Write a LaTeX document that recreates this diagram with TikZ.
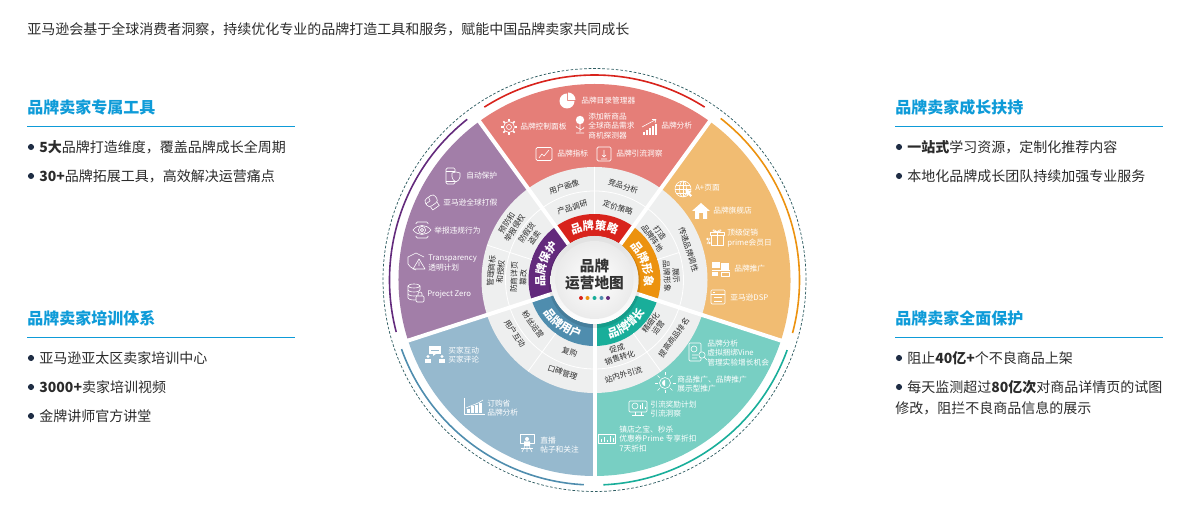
\documentclass[tikz,border=0pt]{standalone}
\usepackage{fontspec}
\setmainfont{Noto Sans CJK SC}
\usetikzlibrary{positioning,decorations.text}

\definecolor{secred}{HTML}{E57E78}
\definecolor{secpurple}{HTML}{A27EA8}
\definecolor{secorange}{HTML}{F1BC72}
\definecolor{secblue}{HTML}{96B9CE}
\definecolor{secteal}{HTML}{78CFC3}
\definecolor{ringred}{HTML}{D8231C}
\definecolor{ringpurple}{HTML}{632A7C}
\definecolor{ringorange}{HTML}{EC920F}
\definecolor{ringblue}{HTML}{4F8DAE}
\definecolor{ringteal}{HTML}{19AE9A}
\definecolor{gridgrey}{HTML}{EEEFEF}
\definecolor{headblue}{HTML}{0E9BD8}
\definecolor{bodyink}{HTML}{2B2B2B}
\definecolor{dotnavy}{HTML}{1F2D44}
\definecolor{dashteal}{HTML}{2F5D62}

\tikzset{
  headtext/.style={anchor=west,inner sep=0pt,text=headblue,font=\fontsize{12pt}{14pt}\selectfont\bfseries},
  bodytext/.style={anchor=west,inner sep=0pt,text=bodyink,font=\fontsize{10.5pt}{12pt}\selectfont},
  bulletdot/.style={circle,fill=dotnavy,inner sep=0pt,minimum size=4.6pt},
  sectext/.style={anchor=west,inner sep=0pt,align=left,text=white,font=\fontsize{5.8pt}{7.1pt}\selectfont},
  gridtext/.style={inner sep=0pt,align=center,text=bodyink,font=\fontsize{5.8pt}{7pt}\selectfont},
  ringtext/.style={decorate,decoration={text along path,text align=center,text color=white,text={|\fontsize{8.5pt}{10pt}\selectfont\bfseries|#1}}},
  icon/.style={draw=white,line width=.45pt,line join=round},
}

\begin{document}
\begin{tikzpicture}[x=0.75pt,y=0.75pt]
  \useasboundingbox (0,0) rectangle (1189,513);

  \node[bodytext] (intro) at (27,484) {亚马逊会基于全球消费者洞察，持续优化专业的品牌打造工具和服务，赋能中国品牌卖家共同成长};

  % side columns
  \node[headtext] (headA) at (27,406) {品牌卖家专属工具};
  \coordinate (ruleAa) at (27,386); \coordinate (ruleAb) at (295,386);
  \draw[headblue,line width=.75pt] (ruleAa) -- (ruleAb);
  \node[bulletdot] (dotA1) at (31,366) {};
  \node[bodytext,right=3.6pt of dotA1] (itemA1) {\textbf{5大}品牌打造维度，覆盖品牌成长全周期};
  \node[bulletdot] (dotA2) at (31,337) {};
  \node[bodytext,right=3.6pt of dotA2] (itemA2) {\textbf{30+}品牌拓展工具，高效解决运营痛点};

  \node[headtext] (headB) at (27,195) {品牌卖家培训体系};
  \coordinate (ruleBa) at (27,175); \coordinate (ruleBb) at (295,175);
  \draw[headblue,line width=.75pt] (ruleBa) -- (ruleBb);
  \node[bulletdot] (dotB1) at (31,155) {};
  \node[bodytext,right=3.6pt of dotB1] (itemB1) {亚马逊亚太区卖家培训中心};
  \node[bulletdot] (dotB2) at (31,126) {};
  \node[bodytext,right=3.6pt of dotB2] (itemB2) {\textbf{3000+}卖家培训视频};
  \node[bulletdot] (dotB3) at (31,97) {};
  \node[bodytext,right=3.6pt of dotB3] (itemB3) {金牌讲师官方讲堂};

  \node[headtext] (headC) at (895,406) {品牌卖家成长扶持};
  \coordinate (ruleCa) at (895,386); \coordinate (ruleCb) at (1163,386);
  \draw[headblue,line width=.75pt] (ruleCa) -- (ruleCb);
  \node[bulletdot] (dotC1) at (899,366) {};
  \node[bodytext,right=3.6pt of dotC1] (itemC1) {\textbf{一站式}学习资源，定制化推荐内容};
  \node[bulletdot] (dotC2) at (899,337) {};
  \node[bodytext,right=3.6pt of dotC2] (itemC2) {本地化品牌成长团队持续加强专业服务};

  \node[headtext] (headD) at (895,195) {品牌卖家全面保护};
  \coordinate (ruleDa) at (895,175); \coordinate (ruleDb) at (1163,175);
  \draw[headblue,line width=.75pt] (ruleDa) -- (ruleDb);
  \node[bulletdot] (dotD1) at (899,155) {};
  \node[bodytext,right=3.6pt of dotD1] (itemD1) {阻止\textbf{40亿+}个不良商品上架};
  \node[bulletdot] (dotD2) at (899,126) {};
  \node[bodytext,right=3.6pt of dotD2] (itemD2) {每天监测超过\textbf{80亿次}对商品详情页的试图};
  \node[bodytext] (itemD3) at (895,105) {修改，阻拦不良商品信息的展示};

  % wheel
  \begin{scope}[shift={(594.5,233)}]
    \draw[dashteal,line width=.55pt,dash pattern=on 2pt off 1.4pt] (0,0) circle[radius=211.5];
    \foreach \a/\col in {54/secred,126/secpurple,198/secblue,270/secteal,342/secorange}
      \fill[\col] (0,0) -- (\a:196) arc[start angle=\a,delta angle=72,radius=196] -- cycle;
    \foreach \a/\b/\col in {57.5/122.5/ringred,128.4/194.7/ringpurple,199.7/267/ringblue,272.5/340/ringteal,345/412/ringorange}
      \draw[\col,line width=1.2pt] (\a:205) arc[start angle=\a,end angle=\b,radius=205];
    \fill[gridgrey] (0,0) circle[radius=113];
    \foreach \a/\col in {54/ringred,126/ringpurple,198/ringblue,270/ringteal,342/ringorange}
      \fill[\col] (\a:66) arc[start angle=\a,delta angle=72,radius=66] -- (\a+72:44) arc[start angle=\a+72,delta angle=-72,radius=44] -- cycle;
    \draw[white,line width=.6pt] (0,0) circle[radius=89];
    \foreach \a in {90,162,234,306}
      \draw[white,line width=.6pt] (\a:66) -- (\a:113);
    \draw[white,line width=.6pt] (18:66) -- (18:89);
    \foreach \a in {54,126,198,270,342}
      \draw[white,line width=3pt] (\a:40) -- (\a:200);

    \path[ringtext=品牌策略] (126:50) arc[start angle=126,delta angle=-72,radius=50];
    \path[ringtext=品牌形象] (54:50) arc[start angle=54,delta angle=-72,radius=50];
    \path[ringtext=品牌保护] (198:50) arc[start angle=198,delta angle=-72,radius=50];
    \path[ringtext=品牌用户] (198:60) arc[start angle=198,delta angle=72,radius=60];
    \path[ringtext=品牌增长] (270:60) arc[start angle=270,delta angle=72,radius=60];

    \foreach \nm/\a/\r/\rot/\t in {
      cellA/108/98/18/用户画像, cellB/73/98/-17/竞品分析,
      cellC/107/76/17/产品调研, cellD/72/76/-18/定价策略,
      cellE/18/99/-72/传递品牌调性, cellF/36/76/-54/{打造\\品牌阵地}, cellG/3/77/-87/{展示\\品牌形象},
      cellH/147/100/57/{预防和\\举报侵权}, cellI/145/78/55/{防假货\\盗卖},
      cellJ/175/99/85/{管理商标\\和授权}, cellK/178/76/88/{防商详页\\篡改},
      cellL/216/76/-54/粉丝运营, cellM/214/96/-56/用户互动,
      cellN/251/76/-19/复购, cellO/251/98/-19/口碑管理,
      cellP/288/77/18/{促成\\销售转化}, cellQ/323/75/53/{精细化\\运营},
      cellR/324/98/54/提高商品排名, cellS/287/99/17/站内外引流}
      \node[gridtext,rotate=\rot] (\nm) at (\a:\r) {\t};

    % hub
    \fill[black,opacity=.10] (0,-2) circle[radius=46];
    \shade[top color=black!12,bottom color=white] (0,0) circle[radius=44];
    \shade[inner color=white,outer color=black!8] (0,0) circle[radius=39];
    \node[inner sep=0pt,align=center,text=black!80,font=\fontsize{11pt}{12.8pt}\selectfont\bfseries] (hub) at (0,5) {品牌\\运营地图};
    \foreach \nm/\dx/\col in {hubA/-13.5/ringred,hubB/-7/ringorange,hubC/0/ringteal,hubD/7/ringblue,hubE/13.5/ringpurple}
      \node[circle,fill=\col,inner sep=0pt,minimum size=3pt] (\nm) at (\dx,-18) {};
  \end{scope}

  % sector texts
  \foreach \nm/\x/\y/\t in {
    txtA/581/412/品牌目录管理器, txtB/520/386/品牌控制面板, txtC/588/387/{添加新商品\\全球商品需求\\商机探测器},
    txtD/661/387/品牌分析, txtE/557/359/品牌指标, txtF/616/359/品牌引流洞察,
    txtG/466/337/自动保护, txtH/443/310/亚马逊全球打假, txtI/434/282/举报违规行为,
    txtJ/428/250/{Transparency\\透明计划}, txtK/427/219/Project Zero,
    txtL/695/325/A+页面, txtM/713/302/品牌旗舰店, txtN/727/275/{顶级促销\\prime会员日},
    txtO/734/244/品牌推广, txtP/730/215/亚马逊DSP,
    txtQ/448/158/{买家互动\\买家评论}, txtR/487/105/{订购省\\品牌分析}, txtS/540/68/{直播\\帖子和关注},
    txtT/707/160/{品牌分析\\虚拟捆绑Vine\\管理实验增长机会}, txtU/677/129/{商品推广、品牌推广\\展示型推广},
    txtV/650/104/{引流奖励计划\\引流洞察}, txtW/619/74/{镇店之宝、秒杀\\优惠券Prime 专享折扣\\7天折扣}}
    \node[sectext] (\nm) at (\x,\y) {\t};

  % icons, red
  \begin{scope}[shift={(567,412)}]
    \fill[white] (0,0) -- (0,7.5) arc[start angle=90,delta angle=270,radius=7.5] -- cycle;
    \fill[white] (1,1) -- (1,8.5) arc[start angle=90,delta angle=-90,radius=7.5] -- cycle;
  \end{scope}
  \begin{scope}[shift={(509,386)},icon]
    \draw (0,0) circle[radius=2.5] (0,0) circle[radius=5.5];
    \foreach \a in {0,45,...,315} \draw[line width=1.1pt] (\a:5.5) -- (\a:8);
  \end{scope}
  \begin{scope}[shift={(580,388)},icon]
    \fill[white] (0,5) circle[radius=4.2];
    \draw (0,1) -- (0,-7) (-4,-8) -- (4,-8) (0,-4) .. controls (-4,-2) .. (-4,-1) (0,-5) .. controls (4,-3) .. (4,-2);
  \end{scope}
  \begin{scope}[shift={(650,386)},icon]
    \foreach \x/\h in {-7/3,-4/5,-1/7,2/9,5/11}
      \fill[white] (\x,-8) rectangle (\x+2,-8+\h);
    \draw (-8,0) -- (5,7) (2,7.5) -- (6,7.5) -- (5,4);
  \end{scope}
  \begin{scope}[shift={(544,359)},icon]
    \draw[rounded corners=1pt] (-8,-6.5) rectangle (8,6.5);
    \draw (-5,-4) -- (-2,0) -- (0,-2) -- (5,4);
  \end{scope}
  \begin{scope}[shift={(604,359)},icon]
    \draw[rounded corners=1pt] (-7,-7) rectangle (7,7);
    \draw (0,4) -- (0,-3) (-2,-1) -- (0,-3) -- (2,-1) (-3,-5) -- (3,-5);
  \end{scope}

  % icons, purple
  \begin{scope}[shift={(453,337)},icon]
    \draw[rounded corners=1pt] (-7,-8) rectangle (2,8);
    \draw (-7,5) -- (2,5) (-7,-5) -- (2,-5);
    \draw[fill=secpurple] (-1,3) -- (3,4) -- (7,3) -- (7,-1) .. controls (6,-4) .. (3,-6) .. controls (0,-4) .. (-1,-1) -- cycle;
  \end{scope}
  \begin{scope}[shift={(432,311)},icon,rotate=35]
    \draw[rounded corners=2.5pt] (-6,-3) rectangle (6,6);
    \draw (-4,-3) -- (-4,-7) -- (4,-7) -- (4,-3) (-6,2) -- (-1,2) (-1,2) -- (0,6);
  \end{scope}
  \begin{scope}[shift={(422,283)},icon]
    \draw (-9,0) .. controls (-4,6) and (4,6) .. (9,0) .. controls (4,-6) and (-4,-6) .. cycle;
    \draw (0,0) circle[radius=3.6] (0,0) circle[radius=1.6];
    \draw[rounded corners=1pt] (-6,-6) -- (-6,-8) -- (6,-8) -- (6,-6) (-6,6) -- (-6,8) -- (6,8) -- (6,6);
  \end{scope}
  \begin{scope}[shift={(416,251)},icon]
    \draw (0,9) -- (8,5) (0,9) -- (-8,5) -- (-8,-2) .. controls (-6,-5) .. (0,-8);
    \draw (3,3) -- (9,-7) -- (-3,-7) -- cycle (3,0) -- (3,-4);
  \end{scope}
  \begin{scope}[shift={(414,221)},icon]
    \draw (0,6) ellipse[x radius=6,y radius=2];
    \draw (6,6) -- (6,2) (-6,6) -- (-6,-6) arc[start angle=180,end angle=300,x radius=6,y radius=2];
    \draw (-6,2) arc[start angle=180,end angle=360,x radius=6,y radius=2];
    \draw (-6,-2) arc[start angle=180,end angle=300,x radius=6,y radius=2];
  \end{scope}
  \begin{scope}[shift={(419,217)},icon]
    \draw[fill=secpurple,rounded corners=.8pt] (-3,-6) rectangle (5,0);
    \draw (-1,0) -- (-1,2) arc[start angle=180,end angle=0,radius=2] -- (3,0);
  \end{scope}

  % icons, orange
  \begin{scope}[shift={(683,324)},icon]
    \draw (0,0) circle[radius=8] (0,0) ellipse[x radius=3.5,y radius=8];
    \draw (-8,0) -- (8,0) (-7,4) -- (7,4) (-7,-4) -- (7,-4) (0,-8) -- (0,8);
    \fill[white] (2,0) -- (8.5,-2.5) -- (6.5,-3.7) -- (9,-6.5) -- (7.5,-8) -- (5,-5) -- (4,-7) -- cycle;
  \end{scope}
  \begin{scope}[shift={(701,302)},icon]
    \fill[white] (-9,0) -- (0,8) -- (9,0) -- (6,0) -- (6,-8) -- (2,-8) -- (2,-2) -- (-2,-2) -- (-2,-8) -- (-6,-8) -- (-6,0) -- cycle;
  \end{scope}
  \begin{scope}[shift={(717,275)},icon]
    \draw (-6,-7) rectangle (6,3) (-7,3) rectangle (7,6) (0,-7) -- (0,6);
    \draw (0,6) .. controls (-5,11) and (-6,6) .. (0,6) .. controls (5,11) and (6,6) .. (0,6);
    \draw (-10,-6) -- (-7,0);
    \draw (-9.5,-1) circle[radius=.9] (-7.5,-5) circle[radius=.9];
  \end{scope}
  \begin{scope}[shift={(722,244)},icon]
    \fill[white] (-10,1) rectangle (-2,7);
    \fill[white] (-10,-7) rectangle (-4,-3);
    \foreach \y in {5,3,1,-1}
      \draw[line width=.9pt] (-1,\y) -- (7,\y);
    \draw (-10,-1) -- (8,-1) (-1,-7) rectangle (7,-3);
  \end{scope}
  \begin{scope}[shift={(718,216)},icon]
    \draw[rounded corners=.8pt] (-7,-7) rectangle (7,7);
    \draw (-7,3) -- (7,3) (-4,-.5) -- (4,-.5) (-4,-4) -- (4,-4) (-5,5) -- (-3,5);
  \end{scope}

  % icons, blue
  \begin{scope}[shift={(435,158)}]
    \fill[white] (-6,1) rectangle (6,9);
    \fill[white] (-2,1) -- (-2,-1) -- (1,1) -- cycle;
    \draw[secblue,line width=.4pt] (-4,5) -- (4,5);
    \foreach \x in {-7,7} {
      \fill[white] (\x,-1.5) circle[radius=1.7];
      \fill[white] (\x-2.7,-8) rectangle (\x+2.7,-3.7);
    }
  \end{scope}
  \begin{scope}[shift={(474,106)},icon]
    \draw (-10,9) -- (-10,-7) -- (11,-7);
    \foreach \x/\h in {-7/4,-3/7,1/8,5/10}
      \fill[white] (\x,-6.5) rectangle (\x+2.5,-6.5+\h);
    \draw (-8,-1) .. controls (-2,2) and (4,3) .. (9,7);
  \end{scope}
  \begin{scope}[shift={(527,68)},icon]
    \draw (-7,2) rectangle (7,11);
    \fill[white] (0,6) circle[radius=2] (-3,-1) rectangle (3,3.5);
    \draw (-2,-1) -- (-5,-7) (2,-1) -- (5,-7) (0,-1) -- (0,-7);
    \fill[white] (-6,-4) rectangle (6,-3);
  \end{scope}

  % icons, teal
  \begin{scope}[shift={(696,161)},icon]
    \draw[rounded corners=.8pt] (-7,-9) rectangle (5,9);
    \draw (-4,-3) -- (2,-3) (-4,-6) -- (1,-6) (-2,3) circle[radius=3];
    \draw[fill=secteal] (6,-3) circle[radius=3.2];
    \draw (8.3,-5.3) -- (11,-8);
  \end{scope}
  \begin{scope}[shift={(665,130)},icon]
    \draw (0,0) circle[radius=5.5];
    \fill[white] (0,3) arc[start angle=90,end angle=270,radius=3] -- cycle;
    \foreach \a in {0,45,...,315} \draw (\a:7.5) -- (\a:10.5);
  \end{scope}
  \begin{scope}[shift={(638,105)},icon]
    \draw[rounded corners=.8pt] (-9,-4) rectangle (9,7);
    \draw (-3,-4) -- (-3,-7) (3,-4) -- (3,-7) (-6,-7) -- (6,-7);
    \draw (-3,2) circle[radius=3];
    \draw (2,-1) -- (2,3) (4.5,-1) -- (4.5,5) (7,-1) -- (7,1);
  \end{scope}
  \begin{scope}[shift={(607,74)},icon]
    \draw (-8.5,-4.5) rectangle (8.5,4.5);
    \foreach \x/\h in {-6.5/3,-3.5/5,-.5/2,2.5/6,5.5/4}
      \fill[white] (\x,-3) rectangle (\x+1.6,-3+\h);
  \end{scope}
\end{tikzpicture}
\end{document}
